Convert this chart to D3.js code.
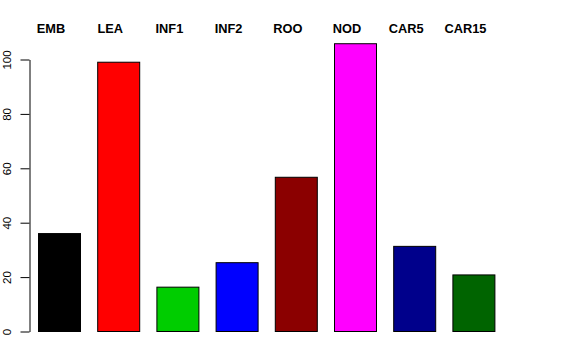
<!DOCTYPE html>
<html><head><meta charset="utf-8">
<script src="https://cdn.jsdelivr.net/npm/d3@7"></script>
<style>body{margin:0;background:#fff}svg{display:block}</style>
</head><body>
<script>
const categories = ["EMB","LEA","INF1","INF2","ROO","NOD","CAR5","CAR15"];
const values = [36, 99, 16.3, 25.3, 56.7, 105.8, 31.3, 20.8];
const colors = ["#000000","#FF0000","#00CD00","#0000FF","#8B0000","#FF00FF","#00008B","#006400"];
const yTicks = [0,20,40,60,80,100];

const W = 576, H = 360;
const svg = d3.select("body").append("svg").attr("width", W).attr("height", H);

const y = d3.scaleLinear().domain([0,100]).range([331.5, 59.5]);
const x = d3.scaleLinear().domain([0,1]).range([38.5, 97.7]); // bar left edges by index
const barW = 42;

svg.selectAll("rect.bar").data(values).enter().append("rect")
  .attr("class","bar")
  .attr("x",(d,i)=>x(i))
  .attr("y",d=>y(d))
  .attr("width",barW)
  .attr("height",d=>y(0)-y(d))
  .attr("fill",(d,i)=>colors[i])
  .attr("stroke","#000").attr("stroke-width",1);

const axis = d3.axisLeft(y).tickValues(yTicks).tickSize(9).tickSizeOuter(0);
const g = svg.append("g").attr("transform","translate(29.5,0)").call(axis);
g.select(".domain").attr("stroke","#000");
g.selectAll(".tick line").attr("stroke","#000");
g.selectAll(".tick text")
  .attr("font-family","Liberation Sans, Arial, sans-serif")
  .attr("font-size",11.5).attr("fill","#000")
  .attr("x",null).attr("dy",null)
  .attr("text-anchor","middle")
  .attr("transform","translate(-19,0) rotate(-90)");

svg.selectAll("text.cat").data(categories).enter().append("text")
  .attr("class","cat")
  .attr("x",(d,i)=>x(i) + barW/2 - 8.5).attr("y",33)
  .attr("text-anchor","middle")
  .attr("font-family","Liberation Sans, Arial, sans-serif")
  .attr("font-weight","bold").attr("font-size",12.8)
  .text(d=>d);
</script>
</body></html>
